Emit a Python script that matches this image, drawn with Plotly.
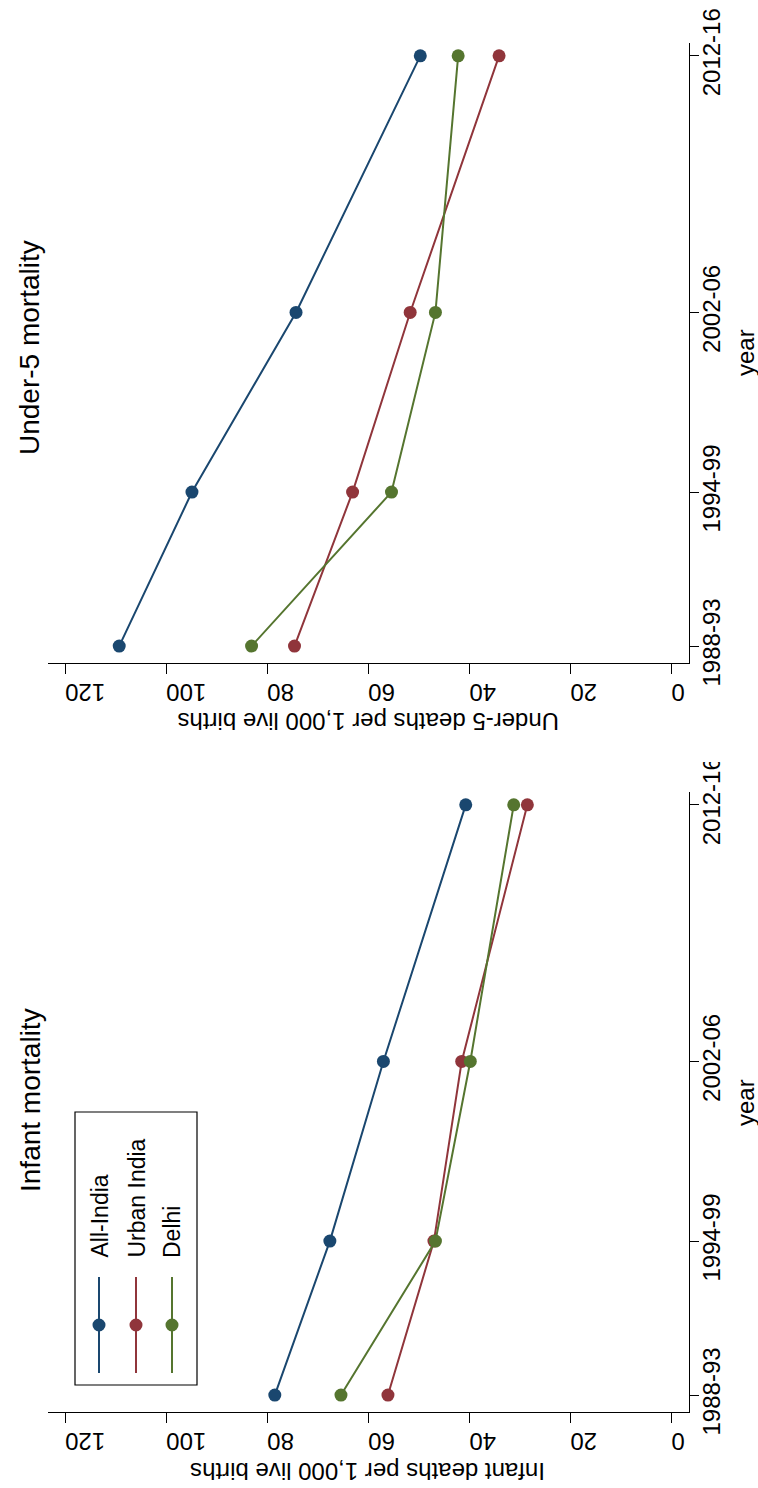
import plotly.graph_objects as go

W, H = 758, 1488

# ---- data ----
survey_years = [1992, 1998, 2005, 2015]
period_labels = ["1988-93", "1994-99", "2002-06", "2012-16"]
series_names = ["All-India", "Urban India", "Delhi"]
series_colors = ["#1a476f", "#90353b", "#55752f"]

imr_all_india = [78.5, 67.6, 57.0, 40.7]
imr_urban_india = [56.1, 47.0, 41.5, 28.5]
imr_delhi = [65.4, 46.7, 39.8, 31.2]

u5mr_all_india = [109.3, 94.9, 74.3, 49.7]
u5mr_urban_india = [74.6, 63.1, 51.7, 34.1]
u5mr_delhi = [83.1, 55.4, 46.7, 42.2]

value_ticks = [0, 20, 40, 60, 80, 100, 120]

FONT = "Liberation Sans, Arial, sans-serif"


def px(x):
    return x / W


def py(y):
    return 1 - y / H


fig = go.Figure()

panels = [
    ("x", "y", [imr_all_india, imr_urban_india, imr_delhi]),
    ("x2", "y2", [u5mr_all_india, u5mr_urban_india, u5mr_delhi]),
]
for xa, ya, series in panels:
    for name, color, vals in zip(series_names, series_colors, series):
        fig.add_trace(go.Scatter(
            x=vals, y=survey_years, mode="lines+markers", name=name,
            line=dict(color=color, width=2),
            marker=dict(color=color, size=13),
            xaxis=xa, yaxis=ya, showlegend=False, cliponaxis=False,
        ))

xcommon = dict(
    range=[123.4, -3.4], tickvals=value_ticks, tickangle=180,
    ticks="outside", ticklen=10, tickwidth=1.2, tickcolor="black",
    showline=True, linecolor="black", linewidth=1.2,
    showgrid=False, zeroline=False, automargin=False,
    ticklabelstandoff=5,
    tickfont=dict(family=FONT, size=24, color="black"),
    domain=[px(48), px(688.5)],
)
ycommon = dict(
    range=[1991.34, 2015.5], tickvals=survey_years, ticktext=period_labels,
    tickangle=-90, side="right",
    ticks="outside", ticklen=9, tickwidth=1.2, tickcolor="black",
    showline=True, linecolor="black", linewidth=1.2,
    showgrid=False, zeroline=False, automargin=False,
    ticklabelstandoff=-7,
    tickfont=dict(family=FONT, size=24, color="black"),
)

fig.update_layout(
    width=W, height=H, autosize=False,
    margin=dict(l=0, r=0, t=0, b=0, pad=0),
    paper_bgcolor="white", plot_bgcolor="white",
    font=dict(family=FONT, color="black"),
    showlegend=False,
    xaxis=dict(anchor="y", **xcommon),
    yaxis=dict(anchor="x", domain=[py(1412), py(792)], **ycommon),
    xaxis2=dict(anchor="y2", **xcommon),
    yaxis2=dict(anchor="x2", domain=[py(663), py(43)], **ycommon),
)

annots = []
# panel titles
annots.append(dict(text="Infant mortality", x=px(30), y=py(1100), textangle=-90,
                   font=dict(size=28)))
annots.append(dict(text="Under-5 mortality", x=px(29), y=py(348), textangle=-90,
                   font=dict(size=28)))
# value axis titles (upside down)
annots.append(dict(text="Infant deaths per 1,000 live births", x=px(368), y=py(1472),
                   textangle=180, font=dict(size=24)))
annots.append(dict(text="Under-5 deaths per 1,000 live births", x=px(368), y=py(722),
                   textangle=180, font=dict(size=24)))
# year axis titles
annots.append(dict(text="year", x=px(745), y=py(1103), textangle=-90, font=dict(size=24)))
annots.append(dict(text="year", x=px(745), y=py(353), textangle=-90, font=dict(size=24)))

shapes = []
# legend (rotated, drawn manually)
shapes.append(dict(type="rect", xref="paper", yref="paper",
                   x0=px(75), x1=px(197), y0=py(1385), y1=py(1112),
                   line=dict(color="black", width=1.2), fillcolor="white", layer="above"))
leg_x = [99, 136, 172]
for lx, name, color in zip(leg_x, series_names, series_colors):
    shapes.append(dict(type="line", xref="paper", yref="paper",
                       x0=px(lx), x1=px(lx), y0=py(1373), y1=py(1277),
                       line=dict(color=color, width=2), layer="above"))
    r = 6.5
    shapes.append(dict(type="circle", xref="paper", yref="paper",
                       x0=px(lx - r), x1=px(lx + r), y0=py(1325 + r), y1=py(1325 - r),
                       line=dict(color=color, width=0), fillcolor=color, layer="above"))
    annots.append(dict(text=name, x=px(lx), y=py(1260), xanchor="center", yanchor="bottom",
                       textangle=-90, font=dict(size=23)))

# clip of the lower panel's top tick label, as in the original panel layout
shapes.append(dict(type="rect", xref="paper", yref="paper",
                   x0=px(694), x1=px(758), y0=py(762), y1=py(700),
                   line=dict(width=0), fillcolor="white", layer="above"))

for a in annots:
    a.setdefault("xref", "paper")
    a.setdefault("yref", "paper")
    a.setdefault("xanchor", "center")
    a.setdefault("yanchor", "middle")
    a.setdefault("showarrow", False)
    a["font"] = dict(family=FONT, color="black", **a.get("font", {}))
fig.update_layout(annotations=annots, shapes=shapes)

fig.write_html("out.html")
